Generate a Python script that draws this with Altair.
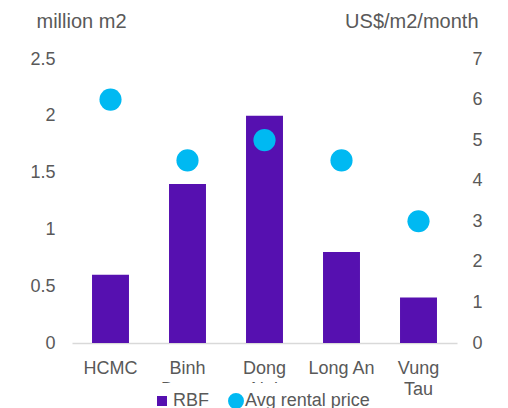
import altair as alt
import pandas as pd

# Ready-built factory space by province, with average rent
regions = ["HCMC", "Binh Duong", "Dong Nai", "Long An", "Vung Tau"]
rbf_million_m2 = [0.6, 1.4, 2.0, 0.8, 0.4]
avg_rent_usd = [6.0, 4.5, 5.0, 4.5, 3.0]
left_ticks = [0, 0.5, 1, 1.5, 2, 2.5]
right_ticks = [0, 1, 2, 3, 4, 5, 6, 7]

df = pd.DataFrame({
    "region": regions,
    "rbf": rbf_million_m2,
    "rent": avg_rent_usd,
    "bar_series": ["RBF"] * len(regions),
    "dot_series": ["Avg rental price"] * len(regions),
})

FONT = "Liberation Sans"
GRAY = "#595959"
PURPLE = "#5610b0"
CYAN = "#00b9f2"

x_enc = alt.X(
    "region:N",
    sort=regions,
    scale=alt.Scale(paddingInner=0.52, paddingOuter=0.26),
    axis=alt.Axis(
        title=None,
        labelAngle=0,
        labelExpr="datum.value == 'Long An' ? datum.label : split(datum.label, ' ')",
        labelPadding=16,
        labelLineHeight=21,
        labelFontSize=18,
        labelFont=FONT,
        labelColor=GRAY,
        ticks=False,
        domainColor="#d9d9d9",
        domainWidth=1.5,
    ),
)

bars = alt.Chart(df).mark_bar(color=PURPLE).encode(
    x=x_enc,
    y=alt.Y(
        "rbf:Q",
        scale=alt.Scale(domain=[0, 2.5], nice=False),
        axis=alt.Axis(
            title="million m2",
            values=left_ticks,
            format="~g",
            grid=False,
            domain=False,
            ticks=False,
            labelPadding=17,
            labelFontSize=18,
            labelFont=FONT,
            labelColor=GRAY,
            titleAngle=0,
            titleAlign="left",
            titleBaseline="alphabetic",
            titleX=-36,
            titleY=-32,
            titleFontSize=20,
            titleFontWeight="normal",
            titleFont=FONT,
            titleColor=GRAY,
        ),
    ),
    color=alt.Color(
        "bar_series:N",
        scale=alt.Scale(domain=["RBF"], range=[PURPLE]),
        legend=alt.Legend(
            title=None,
            orient="none",
            legendX=72,
            legendY=324,
            symbolType="square",
            symbolSize=100,
            symbolStrokeWidth=0,
            labelFontSize=18,
            labelFont=FONT,
            labelColor=GRAY,
            labelOffset=2,
            padding=9,
            fillColor="white",
        ),
    ),
)

dots = alt.Chart(df).mark_point(filled=True, size=490, color=CYAN, opacity=1).encode(
    x=alt.X("region:N", sort=regions),
    y=alt.Y(
        "rent:Q",
        scale=alt.Scale(domain=[0, 7], nice=False),
        axis=alt.Axis(
            title="US$/m2/month",
            orient="right",
            values=right_ticks,
            format="~g",
            grid=False,
            domain=False,
            ticks=False,
            labelPadding=15,
            labelFontSize=18,
            labelFont=FONT,
            labelColor=GRAY,
            titleAngle=0,
            titleAlign="right",
            titleBaseline="alphabetic",
            titleX=21,
            titleY=-32,
            titleFontSize=20,
            titleFontWeight="normal",
            titleFont=FONT,
            titleColor=GRAY,
        ),
    ),
    shape=alt.Shape(
        "dot_series:N",
        scale=alt.Scale(domain=["Avg rental price"], range=["circle"]),
        legend=alt.Legend(
            title=None,
            orient="none",
            legendX=146,
            legendY=324,
            symbolSize=254,
            symbolFillColor=CYAN,
            symbolStrokeColor=CYAN,
            symbolStrokeWidth=0,
            symbolOpacity=1,
            labelFontSize=18,
            labelFont=FONT,
            labelColor=GRAY,
            labelOffset=0,
            padding=9,
            fillColor="white",
        ),
    ),
)

chart = (
    alt.layer(bars, dots)
    .resolve_scale(y="independent")
    .properties(
        width=385,
        height=284,
        autosize="none",
        padding={"left": 72, "top": 59, "right": 51, "bottom": 65},
        background="white",
    )
    .configure_view(stroke=None)
)

chart.save("out.html", embed_options={"renderer": "svg", "actions": False})
